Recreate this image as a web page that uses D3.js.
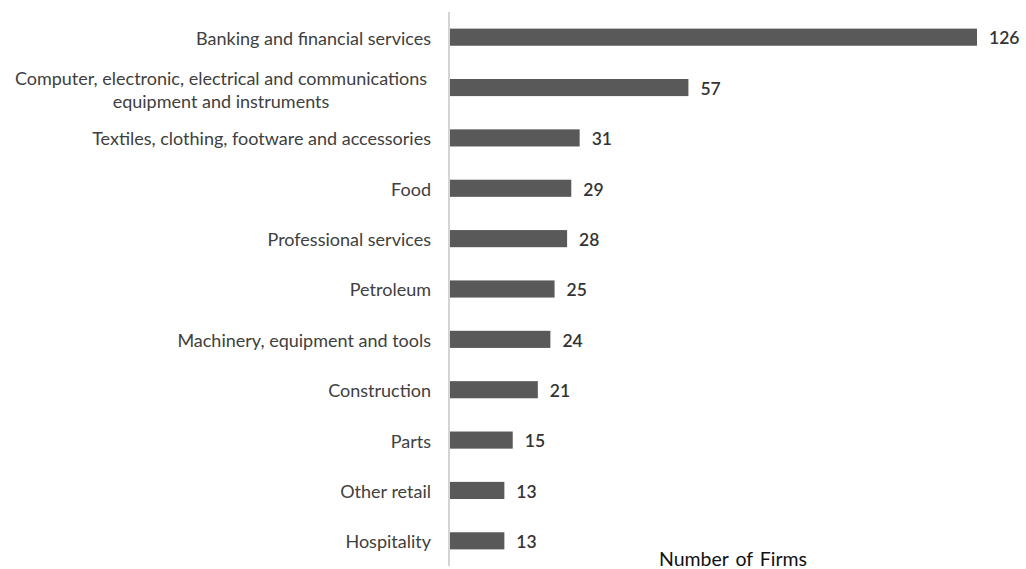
<!DOCTYPE html>
<html>
<head>
<meta charset="utf-8">
<script src="https://cdn.jsdelivr.net/npm/d3@7"></script>
<style>
  html, body { margin: 0; padding: 0; background: #fff; }
  svg { display: block; }
</style>
</head>
<body>
<svg id="chart" width="1026" height="569"></svg>
<script>
// Industry categories (top to bottom) and number of firms in each
const categories = [
  "Banking and financial services",
  "Computer, electronic, electrical and communications|equipment and instruments",
  "Textiles, clothing, footware and accessories",
  "Food",
  "Professional services",
  "Petroleum",
  "Machinery, equipment and tools",
  "Construction",
  "Parts",
  "Other retail",
  "Hospitality"
];
const firms = [126, 57, 31, 29, 28, 25, 24, 21, 15, 13, 13];
const axisTitle = "Number of Firms";

const svg = d3.select("#chart");
const font = "Lato, 'Open Sans', sans-serif";

const x0 = 450, y0 = 12, y1 = 566;
const x = d3.scaleLinear().domain([0, 126]).range([x0, 977]);
const y = d3.scaleBand().domain(categories).range([y0, y1]).paddingInner(0.66).paddingOuter(0.33);

// Vertical category axis line
svg.append("line")
  .attr("x1", x0 - 1).attr("x2", x0 - 1)
  .attr("y1", y0).attr("y2", y1)
  .attr("stroke", "#d4d4d4").attr("stroke-width", 2);

// Bars
svg.selectAll("rect.bar").data(categories).join("rect")
  .attr("class", "bar")
  .attr("x", x0)
  .attr("y", d => y(d))
  .attr("width", (d, i) => x(firms[i]) - x0)
  .attr("height", y.bandwidth())
  .attr("fill", "#595959");

// Value labels
svg.selectAll("text.val").data(categories).join("text")
  .attr("class", "val")
  .attr("x", (d, i) => x(firms[i]) + 12)
  .attr("y", d => y(d) + y.bandwidth() / 2 + 1)
  .attr("dy", "0.36em")
  .attr("font-family", font)
  .attr("font-size", 17.5)
  .attr("font-weight", 600)
  .attr("fill", "#333")
  .text((d, i) => firms[i]);

// Category labels, wrapped at '|'
const labels = svg.selectAll("text.cat").data(categories).join("text")
  .attr("class", "cat")
  .attr("text-anchor", "end")
  .attr("font-family", font)
  .attr("font-size", 18)
  .attr("fill", "#404040");
labels.each(function(d) {
  const lines = d.split("|");
  const cy = y(d) + y.bandwidth() / 2 + 1;
  const t = d3.select(this);
  if (lines.length === 1) {
    t.append("tspan").attr("x", 431).attr("y", cy).attr("dy", "0.36em").text(lines[0]);
  } else {
    t.attr("text-anchor", "middle");
    lines.forEach((ln, k) => {
      t.append("tspan").attr("x", 221).attr("y", cy + 1 + (k - 0.5) * 23).attr("dy", "0.36em").text(ln);
    });
  }
});

// Axis title
svg.append("text")
  .attr("x", 733).attr("y", 566)
  .attr("text-anchor", "middle")
  .attr("font-family", font)
  .attr("font-size", 19.5)
  .attr("word-spacing", 2)
  .attr("fill", "#111")
  .text(axisTitle);
</script>
</body>
</html>
